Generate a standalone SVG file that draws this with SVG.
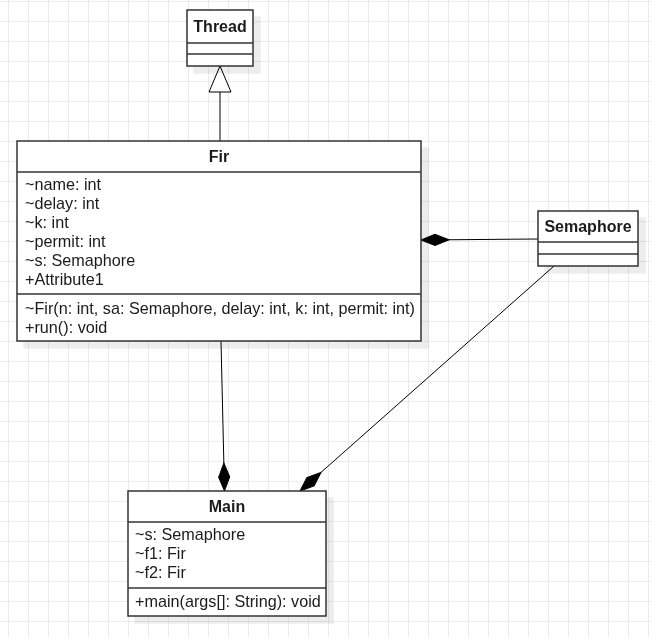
<svg xmlns="http://www.w3.org/2000/svg" width="652" height="637" viewBox="0 0 652 637">
  <defs>
    <pattern id="grid" patternUnits="userSpaceOnUse" x="8" y="1" width="20" height="20">
      <path d="M0 0.5 H20 M0.5 0 V20" fill="none" stroke="#ebebeb" stroke-width="1"/>
    </pattern>
    <marker id="diamond" markerUnits="userSpaceOnUse" markerWidth="30" markerHeight="14" refX="28" refY="6" orient="auto" overflow="visible">
      <path d="M0,6 L14,0.5 L28,6 L14,11.5 Z" fill="#000" stroke="#000" stroke-width="1"/>
    </marker>
    <marker id="triangle" markerUnits="userSpaceOnUse" markerWidth="28" markerHeight="24" refX="26" refY="11" orient="auto" overflow="visible">
      <path d="M0,0 L26,11 L0,22 Z" fill="#fff" stroke="#000" stroke-width="1"/>
    </marker>
    <filter id="shadow" x="-10%" y="-10%" width="130%" height="130%">
      <feOffset in="SourceAlpha" dx="7" dy="7" result="o"/>
      <feFlood flood-color="#000" flood-opacity="0.07"/>
      <feComposite in2="o" operator="in" result="s"/>
      <feMerge><feMergeNode in="s"/><feMergeNode in="SourceGraphic"/></feMerge>
    </filter>
  </defs>
  <style>
    .box { fill: #fff; stroke: #333; stroke-width: 1.5; }
    .sep { stroke: #333; stroke-width: 1.5; }
    .t { font-family: "Liberation Sans", Arial, sans-serif; font-size: 16.2px; fill: #1a1a1a; }
    .title { font-family: "Liberation Sans", Arial, sans-serif; font-size: 16px; font-weight: bold; fill: #1a1a1a; text-anchor: middle; }
    .conn { fill: none; stroke: #000; stroke-width: 1; }
  </style>
  <rect width="652" height="637" fill="#fff"/>
  <rect width="652" height="637" fill="url(#grid)"/>

  <g id="connectors">
    <line class="conn" x1="220" y1="141" x2="220" y2="66" marker-end="url(#triangle)"/>
    <line class="conn" x1="538" y1="239" x2="421" y2="240" marker-end="url(#diamond)"/>
    <line class="conn" x1="221" y1="341" x2="224.5" y2="491" marker-end="url(#diamond)"/>
    <line class="conn" x1="554" y1="266" x2="300" y2="491" marker-end="url(#diamond)"/>
  </g>

  <g id="thread" filter="url(#shadow)">
    <rect class="box" x="187" y="10" width="66" height="56"/>
    <line class="sep" x1="187" y1="43" x2="253" y2="43"/>
    <line class="sep" x1="187" y1="54" x2="253" y2="54"/>
    <text class="title" x="220" y="32">Thread</text>
  </g>

  <g id="fir" filter="url(#shadow)">
    <rect class="box" x="17" y="141" width="404" height="200"/>
    <line class="sep" x1="17" y1="172" x2="421" y2="172"/>
    <line class="sep" x1="17" y1="294" x2="421" y2="294"/>
    <text class="title" x="219" y="162">Fir</text>
    <text class="t" x="25" y="190">~name: int</text>
    <text class="t" x="25" y="209">~delay: int</text>
    <text class="t" x="25" y="228">~k: int</text>
    <text class="t" x="25" y="247">~permit: int</text>
    <text class="t" x="25" y="266">~s: Semaphore</text>
    <text class="t" x="25" y="285">+Attribute1</text>
    <text class="t" x="25" y="314">~Fir(n: int, sa: Semaphore, delay: int, k: int, permit: int)</text>
    <text class="t" x="25" y="333">+run(): void</text>
  </g>

  <g id="semaphore" filter="url(#shadow)">
    <rect class="box" x="538" y="211" width="100" height="55"/>
    <line class="sep" x1="538" y1="242" x2="638" y2="242"/>
    <line class="sep" x1="538" y1="254" x2="638" y2="254"/>
    <text class="title" x="588" y="232">Semaphore</text>
  </g>

  <g id="main" filter="url(#shadow)">
    <rect class="box" x="128" y="491" width="198" height="125"/>
    <line class="sep" x1="128" y1="522" x2="326" y2="522"/>
    <line class="sep" x1="128" y1="588" x2="326" y2="588"/>
    <text class="title" x="227" y="512">Main</text>
    <text class="t" x="135" y="540">~s: Semaphore</text>
    <text class="t" x="135" y="559">~f1: Fir</text>
    <text class="t" x="135" y="578">~f2: Fir</text>
    <text class="t" x="135" y="607">+main(args[]: String): void</text>
  </g>
</svg>
